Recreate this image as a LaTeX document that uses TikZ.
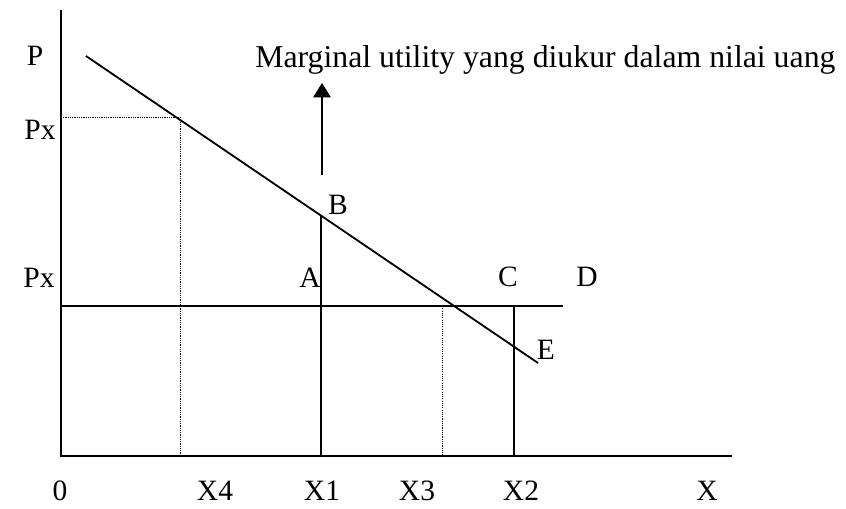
\documentclass[tikz,border=0pt]{standalone}
\usepackage{fontspec}
\setmainfont{Liberation Serif}
\usetikzlibrary{arrows.meta,positioning,calc}

\begin{document}
\begin{tikzpicture}[x=0.025cm, y=0.025cm,
  axis/.style={draw=black, line width=1.4pt},
  curve/.style={draw=black, line width=1.3pt},
  rule/.style={draw=black, line width=1.1pt},
  guide/.style={draw=black, line width=0.6pt, dash pattern=on 0.8pt off 0.8pt},
  up/.style={-{Triangle[length=3.6mm, width=4.4mm]}, draw=black, line width=0.8pt},
  lbl/.style={font=\fontsize{21}{24}\selectfont, inner sep=0pt},
]
\useasboundingbox (-61,-52) rectangle (785,456);
\coordinate (o) at (0,0);
\coordinate (ytop) at (0,446);
\coordinate (xend) at (671,0);
\coordinate (dtop) at (25,400);
\coordinate (dend) at (477,93);
\coordinate (pxh) at (0,339);
\coordinate (hit) at (119,339);
\coordinate (x4) at (119,0);
\coordinate (pxl) at (0,150);
\coordinate (dlim) at (502,150);
\coordinate (x1) at (260,0);
\coordinate (b) at (260,241);
\coordinate (tail) at (261,281);
\coordinate (head) at (261,373);
\coordinate (x3top) at (381,150);
\coordinate (x3) at (381,0);
\coordinate (x2) at (453,0);
\coordinate (c) at (453,150);

\draw[axis] (ytop) -- (o) -- (xend);
\draw[curve] (dtop) -- (dend);
\draw[guide] (pxh) -- (hit) -- (x4);
\draw[rule] (pxl) -- (dlim);
\draw[rule] (x1) -- (b);
\draw[up] (tail) -- (head);
\draw[guide] (x3top) -- (x3);
\draw[rule] (x2) -- (c);

\node[lbl] (lp) at (-26,400) {P};
\node[lbl] (lpxh) at (-21,326) {Px};
\node[lbl] (lpxl) at (-22,178) {Px};
\node[lbl] (la) at (249,178) {A};
\node[lbl] (lb) at (277,251) {B};
\node[lbl] (lc) at (447,179) {C};
\node[lbl] (ld) at (526,179) {D};
\node[lbl] (le) at (485,106) {E};
\node[lbl] (l0) at (-1,-35) {0};
\node[lbl] (lx4) at (154,-35) {X4};
\node[lbl] (lx1) at (261,-35) {X1};
\node[lbl] (lx3) at (356,-35) {X3};
\node[lbl] (lx2) at (460,-35) {X2};
\node[lbl] (lx) at (646,-35) {X};
\node[lbl, font=\fontsize{22.6}{25}\selectfont, anchor=base west] (title) at (194,388) {Marginal utility yang diukur dalam nilai uang};
\end{tikzpicture}
\end{document}
